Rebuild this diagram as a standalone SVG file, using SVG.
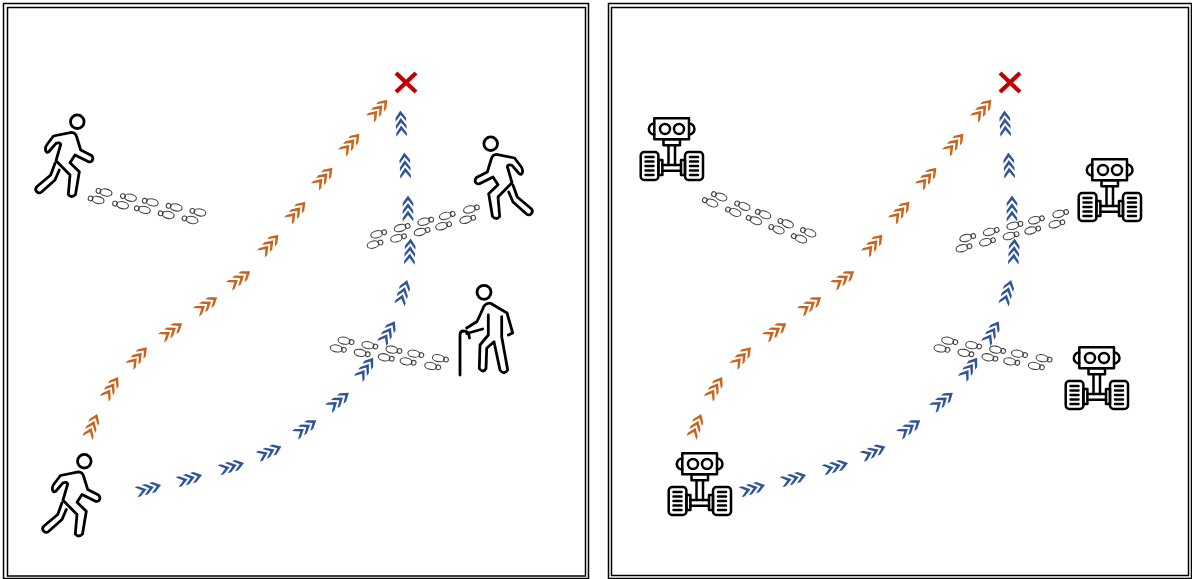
<svg xmlns="http://www.w3.org/2000/svg" width="1192" height="579" viewBox="0 0 1192 579">
<style>
.frame{fill:none;stroke:#000;stroke-width:1.5}
.fig{fill:none;stroke:#000;stroke-width:2.8;stroke-linejoin:round;stroke-linecap:round}
.bot{fill:none;stroke:#000;stroke-width:2.5;stroke-linejoin:round;stroke-linecap:round}
.foot{fill:none;stroke:#444;stroke-width:1.1}
.x{fill:none;stroke:#c00000;stroke-width:4.2}
.blue{fill:#2f5597}
.orange{fill:#c8641e}
</style>
<defs>
<g id="chev">
<path d="M-5.3 -5 L0 -12.5 L5.3 -5 L5.3 -1.5 L0 -8 L-5.3 -1.5Z"/>
<path d="M-5.3 2.5 L0 -5 L5.3 2.5 L5.3 6 L0 -0.5 L-5.3 6Z"/>
<path d="M-5.3 10 L0 2.5 L5.3 10 L5.3 13.5 L0 7 L-5.3 13.5Z"/>
</g>
<g id="foot" class="foot">
<ellipse cx="0" cy="0" rx="6" ry="3.5"/>
<circle cx="7.7" cy="0" r="2.4"/>
</g>
<g id="tracks">
<use href="#foot" x="0" y="0"/><use href="#foot" x="-6.2" y="9"/>
<use href="#foot" x="24.3" y="0"/><use href="#foot" x="18.1" y="9"/>
<use href="#foot" x="48.7" y="0"/><use href="#foot" x="42.5" y="9"/>
<use href="#foot" x="71" y="0"/><use href="#foot" x="64.8" y="9"/>
<use href="#foot" x="96" y="0"/><use href="#foot" x="89.8" y="9"/>
</g>
<g id="walker" class="fig">
<circle cx="77.3" cy="121.7" r="6.8"/>
<path d="M53.5 136 L71.5 132.3 Q75.5 132.5 76.7 137 L80.7 150 L91.5 155.5 Q94 158 92 161 Q90 162.5 88 161.5 L75 155 L70 162.7 L79.3 171.7 L75.5 194.5 Q71.5 198.5 68.3 194.5 L70 175 L56 160.7 L60.7 144.5 Q60 142 56 143.3 L49 151.5 Q46 153.5 45.5 150 Q45 147 47 144.5Z"/>
<path d="M55 163.3 L50.7 175 L37 186.5 Q34.5 189 36.5 191.5 Q39 194 41.5 192 L55 180 L59.3 170"/>
</g>
<g id="robot" class="bot">
<rect x="24.3" y="13.3" width="34.7" height="21"/>
<circle cx="35" cy="24" r="5"/><circle cx="49" cy="24" r="5"/>
<path d="M24.3 18.5 A5.5 5.5 0 0 0 24.3 29.5M59 18.5 A5.5 5.5 0 0 1 59 29.5"/>
<rect x="33.5" y="34.3" width="16.5" height="6"/>
<path d="M38.5 40.3V60M45 40.3V60"/>
<rect x="10.7" y="47" width="17.7" height="28" rx="3.5"/>
<rect x="55" y="47" width="18" height="28" rx="3.5"/>
<path d="M15.5 52H23.5M15.5 56.5H23.5M15.5 61H23.5M15.5 65.5H23.5M15.5 70H23.5M60 52H68M60 56.5H68M60 61H68M60 65.5H68M60 70H68"/>
<rect x="28.4" y="55" width="4" height="15"/><rect x="51" y="55" width="4" height="15"/>
<path d="M32.4 60H51M32.4 65.7H51"/>
</g>
<g id="oldman" class="fig">
<circle cx="484" cy="292.3" r="7"/>
<path d="M460 375 V335 Q460 331 463.5 331 Q469 331 469.5 338"/>
<path d="M466.7 328 L477 321.5 Q482 311 484 306 Q488 302 491 303.5 L507 313 L512.7 333 L508.3 335"/>
<path d="M466.7 333.5 L482.7 329"/>
<path d="M488.3 315 V335 L480 345 L479.3 368.5 Q483.3 373.5 486 368.5 L486.7 348.3 L494 341.7 L500 370 Q504 375.5 507.7 370 L501.7 336.7 V316.7"/>
</g>
<g id="orangeTrail" class="orange">
<use href="#chev" transform="translate(92.5 425.5) rotate(22)"/>
<use href="#chev" transform="translate(111.5 387.5) rotate(32)"/>
<use href="#chev" transform="translate(138.5 356.5) rotate(42)"/>
<use href="#chev" transform="translate(172 330.5) rotate(55)"/>
<use href="#chev" transform="translate(207 304.5) rotate(55)"/>
<use href="#chev" transform="translate(240 278.5) rotate(55)"/>
<use href="#chev" transform="translate(270 244) rotate(42)"/>
<use href="#chev" transform="translate(297 211) rotate(42)"/>
<use href="#chev" transform="translate(324 177) rotate(42)"/>
<use href="#chev" transform="translate(351 143) rotate(42)"/>
<use href="#chev" transform="translate(379 109) rotate(42)"/>
</g>
<g id="blueTrail" class="blue">
<use href="#chev" transform="translate(149 488.5) rotate(74)"/>
<use href="#chev" transform="translate(190 478.5) rotate(74)"/>
<use href="#chev" transform="translate(232 466.5) rotate(74)"/>
<use href="#chev" transform="translate(270 451.5) rotate(66)"/>
<use href="#chev" transform="translate(306 427.5) rotate(55)"/>
<use href="#chev" transform="translate(339 400.5) rotate(52)"/>
<use href="#chev" transform="translate(366 368) rotate(35)"/>
<use href="#chev" transform="translate(388.5 332) rotate(30)"/>
<use href="#chev" transform="translate(403.5 292) rotate(17)"/>
<use href="#chev" transform="translate(410 251) rotate(3)"/>
<use href="#chev" transform="translate(408 208)"/>
<use href="#chev" transform="translate(405 165) rotate(-3)"/>
<use href="#chev" transform="translate(401 123) rotate(-3)"/>
</g>
<path id="cross" class="x" d="M396 73 L416 92 M416 73 L396 92"/>
</defs>
<g id="frames">
<rect class="frame" x="3.5" y="3.5" width="585" height="575"/>
<rect class="frame" x="7.5" y="7.5" width="578" height="568.5"/>
<rect class="frame" x="608.5" y="3.5" width="583" height="575"/>
<rect class="frame" x="611.5" y="7.5" width="577" height="568"/>
</g>
<g id="connectors">
<use href="#orangeTrail"/><use href="#blueTrail"/>
<use href="#orangeTrail" x="604"/><use href="#blueTrail" x="604"/>
</g>
<g id="left-panel">
<g id="target-left"><use href="#cross"/></g>
<g id="walker-a"><use href="#walker"/></g>
<g id="walker-b"><use href="#walker" transform="translate(7 339.5)"/></g>
<g id="walker-c"><use href="#walker" transform="translate(568 22) scale(-1 1)"/></g>
<g id="old-person"><use href="#oldman"/></g>
<g id="tracks-a"><use href="#tracks" transform="translate(192 220) rotate(192)"/></g>
<g id="tracks-b"><use href="#tracks" transform="translate(376.7 234.3) rotate(-15)"/></g>
<g id="tracks-c"><use href="#tracks" transform="translate(344 340.7) rotate(10.5)"/></g>
</g>
<g id="right-panel">
<g id="target-right"><use href="#cross" x="604"/></g>
<g id="robot-a"><use href="#robot" x="630" y="105"/></g>
<g id="robot-b"><use href="#robot" x="658" y="440"/></g>
<g id="robot-c"><use href="#robot" x="1068" y="146"/></g>
<g id="robot-d"><use href="#robot" x="1055" y="334"/></g>
<g id="tracks-d"><use href="#tracks" transform="translate(801 239) rotate(202)"/></g>
<g id="tracks-e"><use href="#tracks" transform="translate(965.7 238) rotate(-14.5)"/></g>
<g id="tracks-f"><use href="#tracks" transform="translate(947.7 340.7) rotate(10.5)"/></g>
</g>
</svg>
